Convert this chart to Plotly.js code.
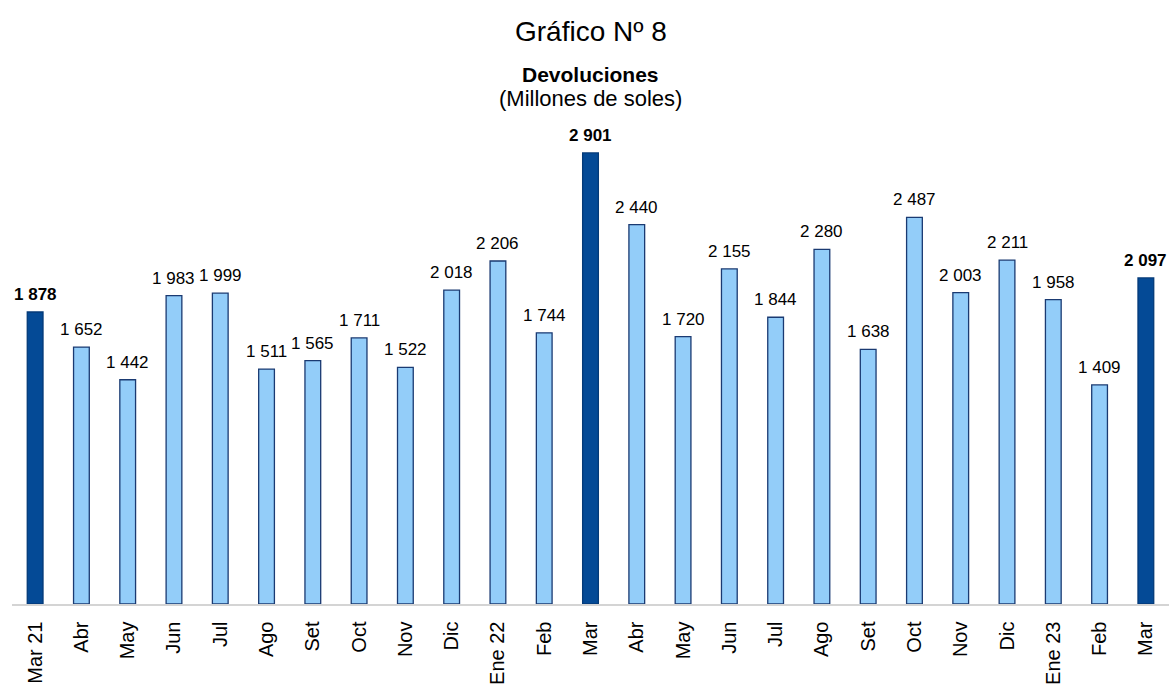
<!DOCTYPE html>
<html>
<head>
<meta charset="utf-8">
<script src="https://cdn.plot.ly/plotly-3.0.1.min.js"></script>
<style>html,body{margin:0;padding:0;background:#fff;}#chart{width:1169px;height:686px;}</style>
</head>
<body>
<div id="chart"></div>
<script>
var categories = ["Mar 21","Abr","May","Jun","Jul","Ago","Set","Oct","Nov","Dic","Ene 22","Feb","Mar","Abr","May","Jun","Jul","Ago","Set","Oct","Nov","Dic","Ene 23","Feb","Mar"];
var values = [1878,1652,1442,1983,1999,1511,1565,1711,1522,2018,2206,1744,2901,2440,1720,2155,1844,2280,1638,2487,2003,2211,1958,1409,2097];
var highlighted = [0,12,24];

var FONT = 'Liberation Sans, Arial, sans-serif';
var xs = categories.map(function(c,i){return i;});
var isHi = xs.map(function(i){return highlighted.indexOf(i)>=0;});
function fmt(v){return String(v).replace(/\B(?=(\d{3})+(?!\d))/g,' ');}

var trace = {
  type:'bar', x:xs, y:values,
  marker:{color:isHi.map(function(h){return h?'#044A96':'#93CDF9';}),
          line:{color:isHi.map(function(h){return h?'#043A78':'#1A3A72';}), width:1.3}},
  hoverinfo:'none'
};

var ann = xs.map(function(i){
  return {x:i, y:values[i], xref:'x', yref:'y', yanchor:'bottom', yshift:6,
    text: isHi[i] ? '<b>'+fmt(values[i])+'</b>' : fmt(values[i]),
    showarrow:false, font:{family:FONT, size:17, color:'#000'}};
});

// page-pixel helper for titles (plot area: top 140, bottom 604)
function py(p){return (604 - p)/464;}
ann.push({xref:'paper', yref:'paper', x:0.5, y:py(32), xanchor:'center', yanchor:'middle',
  text:'Gráfico Nº 8', showarrow:false, font:{family:FONT, size:28, color:'#000'}});
ann.push({xref:'paper', yref:'paper', x:0.5, y:py(74), xanchor:'center', yanchor:'middle',
  text:'<b>Devoluciones</b>', showarrow:false, font:{family:FONT, size:21, color:'#000'}});
ann.push({xref:'paper', yref:'paper', x:0.5, y:py(98), xanchor:'center', yanchor:'middle',
  text:'(Millones de soles)', showarrow:false, font:{family:FONT, size:22, color:'#000'}});

var layout = {
  width:1169, height:686,
  margin:{l:12, r:0, t:140, b:82},
  paper_bgcolor:'#fff', plot_bgcolor:'#fff',
  showlegend:false,
  bargap:0.66,
  xaxis:{tickmode:'array', tickvals:xs, ticktext:categories, tickangle:-90,
    range:[-0.5, categories.length-0.5], showline:true, linecolor:'#d4d4d4', linewidth:1.5,
    ticks:'outside', ticklen:8, tickcolor:'rgba(0,0,0,0)',
    showgrid:false, zeroline:false,
    tickfont:{family:FONT, size:20, color:'#000'}},
  yaxis:{range:[0,2984], visible:false, showgrid:false, zeroline:false},
  annotations:ann
};

Plotly.newPlot('chart',[trace],layout,{displayModeBar:false, staticPlot:true});
</script>
</body>
</html>
